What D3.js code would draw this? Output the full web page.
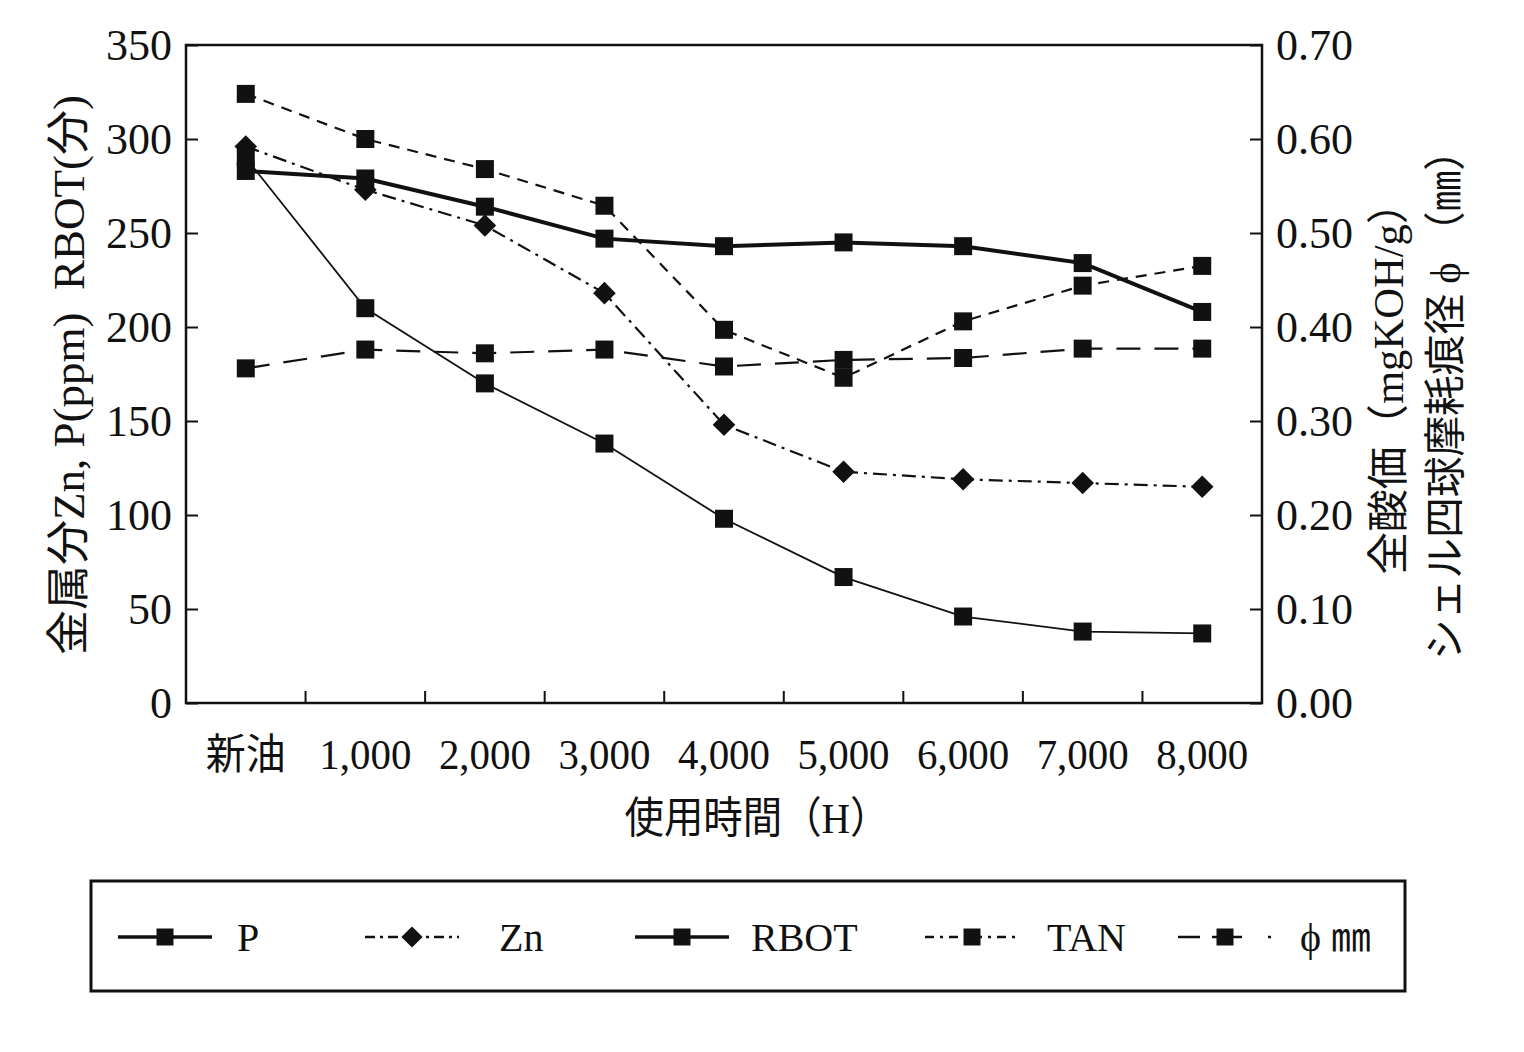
<!DOCTYPE html>
<html><head><meta charset="utf-8">
<script src="https://cdn.jsdelivr.net/npm/d3@7"></script>
<style>body{margin:0;background:#fff}</style>
</head><body><svg id="c" width="1524" height="1052"></svg>
<script>
const categories = ["新油","1,000","2,000","3,000","4,000","5,000","6,000","7,000","8,000"];
const pValues    = [283,279,264,247,243,245,243,234,208];
const znValues   = [296,273,254,218,148,123,119,117,115];
const rbotValues = [290,210,170,138,98,67,46,38,37];
const tanValues  = [0.648,0.600,0.568,0.529,0.397,0.346,0.406,0.444,0.465];
const phiValues  = [0.356,0.376,0.372,0.376,0.358,0.365,0.367,0.377,0.377];
const leftTicks  = [0,50,100,150,200,250,300,350];
const rightTicks = [0,0.1,0.2,0.3,0.4,0.5,0.6,0.7];
const seriesNames = ["P","Zn","RBOT","TAN","ϕ ㎜"];
const xTitle = "使用時間（H）";
const leftTitle = "金属分Zn, P(ppm)  RBOT(分)";
const rightTitle1 = "全酸価（mgKOH/g）";
const rightTitle2 = "シェル四球摩耗痕径 ϕ （㎜）";

const L = 186, R = 1262, T = 45, B = 703;
const FONT = "'Liberation Serif','Noto Sans CJK JP',serif";
const INK = "#111";
const svg = d3.select("#c");
svg.append("rect").attr("width",1524).attr("height",1052).attr("fill","#fff");

const x = d3.scaleBand().domain(categories).range([L, R]).padding(0);
const cx = c => x(c) + x.bandwidth()/2;
const yL = d3.scaleLinear().domain([0,350]).range([B, T]);
const yR = d3.scaleLinear().domain([0,0.7]).range([B, T]);

// Left axis
const gl = svg.append("g").attr("transform",`translate(${L},0)`)
  .call(d3.axisLeft(yL).tickValues(leftTicks).tickSize(-12).tickPadding(14).tickFormat(d3.format("d")));
gl.select(".domain").remove();
gl.selectAll("line").attr("stroke",INK).attr("stroke-width",2);
gl.selectAll("text").attr("font-family",FONT).attr("font-size",44).attr("fill",INK);

// Right axis
const gr = svg.append("g").attr("transform",`translate(${R},0)`)
  .call(d3.axisRight(yR).tickValues(rightTicks).tickSize(-12).tickPadding(14).tickFormat(d3.format(".2f")));
gr.select(".domain").remove();
gr.selectAll("line").attr("stroke",INK).attr("stroke-width",2);
gr.selectAll("text").attr("font-family",FONT).attr("font-size",44).attr("fill",INK);

// Bottom axis: labels at band centers, ticks at band boundaries
const gb = svg.append("g").attr("transform",`translate(0,${B})`)
  .call(d3.axisBottom(x).tickSize(0).tickPadding(36));
gb.select(".domain").remove();
gb.selectAll("text").attr("font-family",FONT).attr("font-size",42).attr("fill",INK)
  .attr("textLength", d => d === "新油" ? 80 : 92).attr("lengthAdjust","spacingAndGlyphs");
svg.append("g").selectAll("line").data(categories.slice(1)).join("line")
  .attr("x1", d => x(d)).attr("x2", d => x(d)).attr("y1", B).attr("y2", B-12)
  .attr("stroke",INK).attr("stroke-width",2);

// Frame
svg.append("rect").attr("x",L).attr("y",T).attr("width",R-L).attr("height",B-T)
  .attr("fill","none").attr("stroke",INK).attr("stroke-width",2.5);

// Titles
svg.append("text").attr("x",757).attr("y",833).attr("text-anchor","middle")
  .attr("font-family",FONT).attr("font-size",43).attr("fill",INK)
  .attr("textLength",265).attr("lengthAdjust","spacingAndGlyphs").text(xTitle);
svg.append("text").attr("transform","translate(84,375) rotate(-90)").attr("text-anchor","middle")
  .attr("font-family",FONT).attr("font-size",44).attr("fill",INK)
  .attr("textLength",560).attr("lengthAdjust","spacingAndGlyphs")
  .attr("xml:space","preserve").style("white-space","pre").text(leftTitle);
svg.append("text").attr("transform","translate(1403,378) rotate(-90)").attr("text-anchor","middle")
  .attr("font-family",FONT).attr("font-size",42).attr("fill",INK)
  .attr("textLength",393).attr("lengthAdjust","spacingAndGlyphs").text(rightTitle1);
svg.append("text").attr("transform","translate(1460,395) rotate(-90)").attr("text-anchor","middle")
  .attr("font-family",FONT).attr("font-size",42).attr("fill",INK)
  .attr("textLength",530).attr("lengthAdjust","spacingAndGlyphs").text(rightTitle2);

// Series
const styles = {
  "P":    {w:4,   dash:null},
  "Zn":   {w:2.2, dash:"14,6,3,6"},
  "RBOT": {w:1.8, dash:null},
  "TAN":  {w:2.2, dash:"11,8"},
  "ϕ ㎜": {w:2.2, dash:"24,14"}
};
const series = [
  {name:"ϕ ㎜", vals:phiValues, y:yR, marker:"square"},
  {name:"TAN",  vals:tanValues, y:yR, marker:"square"},
  {name:"RBOT", vals:rbotValues, y:yL, marker:"square"},
  {name:"Zn",   vals:znValues, y:yL, marker:"diamond"},
  {name:"P",    vals:pValues, y:yL, marker:"square"}
];
const sq = d3.symbol(d3.symbolSquare, 18*18)();
const dia = d3.symbol(d3.symbolSquare, 16*16)();
series.forEach(s => {
  const st = styles[s.name];
  const line = d3.line().x((d,i)=>cx(categories[i])).y(d=>s.y(d));
  svg.append("path").attr("d", line(s.vals)).attr("fill","none").attr("stroke",INK)
    .attr("stroke-width",st.w).attr("stroke-dasharray",st.dash);
  svg.append("g").selectAll("path").data(s.vals).join("path")
    .attr("d", s.marker==="diamond" ? dia : sq)
    .attr("transform",(d,i)=>`translate(${cx(categories[i])},${s.y(d)})` + (s.marker==="diamond"?" rotate(45)":""))
    .attr("fill",INK);
});

// Legend (layout offsets only)
const lg = svg.append("g");
lg.append("rect").attr("x",91).attr("y",881).attr("width",1314).attr("height",110)
  .attr("fill","none").attr("stroke",INK).attr("stroke-width",3);
const legendLeft = [118,365,635,925,1178];
const legendTextGap = [25,40,22,28,28];
const legendDash = {"P":null,"Zn":"10,5,3,5","RBOT":null,"TAN":"9,6,3,6","ϕ ㎜":"22,12,30,26,3,10"};
const ly = 937;
seriesNames.forEach((n,i) => {
  const x0 = legendLeft[i];
  const g = lg.append("g");
  g.append("line").attr("x1",x0).attr("x2",x0+94).attr("y1",ly).attr("y2",ly)
    .attr("stroke",INK).attr("stroke-width", n==="P"||n==="RBOT"?3.5:2.5)
    .attr("stroke-dasharray",legendDash[n]);
  g.append("path").attr("d", n==="Zn" ? d3.symbol(d3.symbolSquare,15*15)() : d3.symbol(d3.symbolSquare,17*17)())
    .attr("transform",`translate(${x0+47},${ly})` + (n==="Zn"?" rotate(45)":"")).attr("fill",INK);
  g.append("text").attr("x",x0+94+legendTextGap[i]).attr("y",ly+14).attr("font-family",FONT).attr("font-size",40)
    .attr("fill",INK).text(n);
});
</script></body></html>
